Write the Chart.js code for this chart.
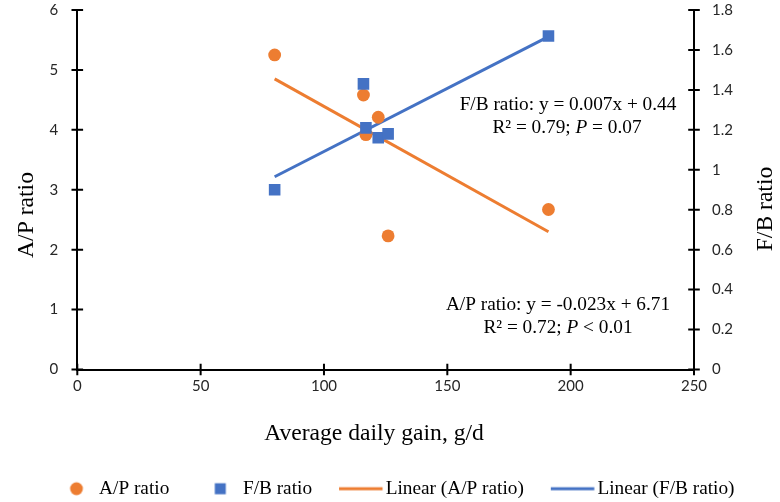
<!DOCTYPE html>
<html>
<head>
<meta charset="utf-8">
<script src="https://cdn.jsdelivr.net/npm/chart.js@4.4.1/dist/chart.umd.min.js"></script>
<style>
  html, body { margin: 0; padding: 0; background: #fff; }
  #wrap { width: 780px; height: 502px; }
</style>
</head>
<body>
<div id="wrap"><canvas id="chart" width="780" height="502"></canvas></div>
<script>
// values
const gain = [80, 116, 117, 122, 126, 191];
const apRatio = [5.25, 4.58, 3.92, 4.21, 2.23, 2.67];
const fbRatio = [0.90, 1.43, 1.21, 1.16, 1.18, 1.67];

// trendline end points (as drawn)
const trendX = [80, 191];
const apTrend = [4.85, 2.30];
const fbTrend = [0.965, 1.667];

const xTicks = [0, 50, 100, 150, 200, 250];
const yTicks = [0, 1, 2, 3, 4, 5, 6];
const y1Ticks = [0, 0.2, 0.4, 0.6, 0.8, 1, 1.2, 1.4, 1.6, 1.8];

const seriesNames = ['A/P ratio', 'F/B ratio', 'Linear (A/P ratio)', 'Linear (F/B ratio)'];
const xTitle = 'Average daily gain, g/d';
const yTitle = 'A/P ratio';
const y1Title = 'F/B ratio';

const ORANGE = '#ED7D31';
const BLUE = '#4472C4';
const SERIF = '"Liberation Serif", "Times New Roman", serif';
const SANS = 'Lato, "Liberation Sans", sans-serif';

const toPoints = (xs, ys) => xs.map((x, i) => ({ x: x, y: ys[i] }));

// legend icons
function icon(draw) {
  const c = document.createElement('canvas');
  c.width = 64; c.height = 16;
  draw(c.getContext('2d'), 32, 8);
  return c;
}
const legendIcons = [
  icon((g, cx, cy) => { g.fillStyle = ORANGE; g.beginPath(); g.arc(cx + 9, cy, 6.4, 0, Math.PI * 2); g.fill(); }),
  icon((g, cx, cy) => { g.fillStyle = BLUE; g.fillRect(cx + 9 - 5.5, cy - 5.5, 11, 11); }),
  icon((g, cx, cy) => { g.strokeStyle = ORANGE; g.lineWidth = 3; g.beginPath(); g.moveTo(cx - 15, cy); g.lineTo(cx + 28.5, cy); g.stroke(); }),
  icon((g, cx, cy) => { g.strokeStyle = BLUE; g.lineWidth = 3; g.beginPath(); g.moveTo(cx - 15, cy); g.lineTo(cx + 28.5, cy); g.stroke(); })
];

const notes = [
  { x: 568, y: 110, parts: [['F/B ratio: y = 0.007x + 0.44', false]] },
  { x: 567, y: 133, parts: [['R\u00B2 = 0.79; ', false], ['P', true], [' = 0.07', false]] },
  { x: 558, y: 310, parts: [['A/P ratio: y = -0.023x + 6.71', false]] },
  { x: 558, y: 333, parts: [['R\u00B2 = 0.72; ', false], ['P', true], [' < 0.01', false]] }
];

const textPlugin = {
  id: 'texts',
  afterDraw(chart) {
    const ctx = chart.ctx;
    ctx.save();
    ctx.fillStyle = '#000';
    ctx.textBaseline = 'alphabetic';

    // axis titles
    ctx.font = '23.6px ' + SERIF;
    ctx.textAlign = 'center';
    ctx.fillText(xTitle, 374, 440);
    [[yTitle, 33, 215], [y1Title, 772, 209]].forEach(([t, x, y]) => {
      ctx.save();
      ctx.translate(x, y);
      ctx.rotate(-Math.PI / 2);
      ctx.fillText(t, 0, 0);
      ctx.restore();
    });

    // equation labels
    ctx.textAlign = 'left';
    notes.forEach(n => {
      const fonts = n.parts.map(p => (p[1] ? 'italic ' : '') + '19.3px ' + SERIF);
      let total = 0;
      const widths = n.parts.map((p, i) => { ctx.font = fonts[i]; const w = ctx.measureText(p[0]).width; total += w; return w; });
      let x = n.x - total / 2;
      n.parts.forEach((p, i) => { ctx.font = fonts[i]; ctx.fillText(p[0], x, n.y); x += widths[i]; });
    });
    ctx.restore();
  }
};

// tick marks that cross the axes
const crossTicks = {
  id: 'crossTicks',
  afterDraw(chart) {
    const ctx = chart.ctx;
    const a = chart.chartArea;
    const L = 5.8;
    ctx.save();
    ctx.strokeStyle = '#000';
    ctx.lineWidth = 2;
    ctx.beginPath();
    const sx = chart.scales.x;
    sx.ticks.forEach(t => { const p = sx.getPixelForValue(t.value); ctx.moveTo(p, a.bottom - L); ctx.lineTo(p, a.bottom + L); });
    const sy = chart.scales.y;
    sy.ticks.forEach(t => { const p = sy.getPixelForValue(t.value); ctx.moveTo(a.left - L, p); ctx.lineTo(a.left + L, p); });
    const sy1 = chart.scales.y1;
    sy1.ticks.forEach(t => { const p = sy1.getPixelForValue(t.value); ctx.moveTo(a.right - L, p); ctx.lineTo(a.right + L, p); });
    ctx.stroke();
    ctx.restore();
  }
};

// move the legend row down a little (Excel puts it close to the bottom edge)
const legendShift = {
  id: 'legendShift',
  afterLayout(chart) {
    const lg = chart.legend;
    if (lg) { lg.top += 6.35; lg.bottom += 6.35; }
  }
};

// fixed axis sizes; the label padding should not push the plot down
const fixWidth = w => s => { s.width = w; s.paddingTop = 0; s.paddingBottom = 0; };

const tickFont = { family: SANS, size: 15 };
const axisGrid = { display: true, drawOnChartArea: false, drawTicks: false };
const axisBorder = { display: true, color: '#000', width: 2 };

new Chart(document.getElementById('chart'), {
  type: 'scatter',
  data: {
    datasets: [
      {
        label: seriesNames[0], data: toPoints(gain, apRatio), yAxisID: 'y', order: 1,
        pointStyle: 'circle', pointRadius: 6.4, pointBackgroundColor: ORANGE, pointBorderWidth: 0
      },
      {
        label: seriesNames[1], data: toPoints(gain, fbRatio), yAxisID: 'y1', order: 0,
        pointStyle: 'rect', pointRadius: 8.2, pointBackgroundColor: BLUE, pointBorderWidth: 0
      },
      {
        label: seriesNames[2], data: toPoints(trendX, apTrend), yAxisID: 'y', order: 3,
        showLine: true, borderColor: ORANGE, borderWidth: 3, pointRadius: 0
      },
      {
        label: seriesNames[3], data: toPoints(trendX, fbTrend), yAxisID: 'y1', order: 2,
        showLine: true, borderColor: BLUE, borderWidth: 3, pointRadius: 0
      }
    ]
  },
  options: {
    responsive: false,
    animation: false,
    events: [],
    layout: { autoPadding: false, padding: { top: 10, left: 0, right: 0, bottom: 0 } },
    scales: {
      x: {
        type: 'linear', min: 0, max: 250,
        afterBuildTicks: s => { s.ticks = xTicks.map(v => ({ value: v })); },
        afterFit: s => { s.height = 83.2; },
        grid: axisGrid, border: axisBorder,
        ticks: { font: tickFont, color: '#262626', padding: 8, maxRotation: 0 }
      },
      y: {
        type: 'linear', position: 'left', min: 0, max: 6,
        afterBuildTicks: s => { s.ticks = yTicks.map(v => ({ value: v })); },
        afterFit: fixWidth(77.3),
        grid: axisGrid, border: axisBorder,
        ticks: { font: tickFont, color: '#262626', padding: 19 }
      },
      y1: {
        type: 'linear', position: 'right', min: 0, max: 1.8,
        afterBuildTicks: s => { s.ticks = y1Ticks.map(v => ({ value: v })); },
        afterFit: fixWidth(86),
        grid: axisGrid, border: axisBorder,
        ticks: { font: tickFont, color: '#262626', padding: 18,
          callback: v => String(Math.round(v * 10) / 10) }
      }
    },
    plugins: {
      tooltip: { enabled: false },
      legend: {
        position: 'bottom',
        labels: {
          usePointStyle: true,
          pointStyleWidth: 44,
          boxHeight: 12,
          padding: 20,
          color: '#000',
          font: { family: SERIF, size: 19.3 },
          generateLabels: chart => chart.data.datasets.map((d, i) => ({
            text: d.label,
            pointStyle: legendIcons[i],
            fillStyle: 'rgba(0,0,0,0)',
            strokeStyle: 'rgba(0,0,0,0)',
            lineWidth: 0,
            hidden: false,
            datasetIndex: i
          }))
        }
      }
    }
  },
  plugins: [crossTicks, textPlugin, legendShift]
});
</script>
</body>
</html>
